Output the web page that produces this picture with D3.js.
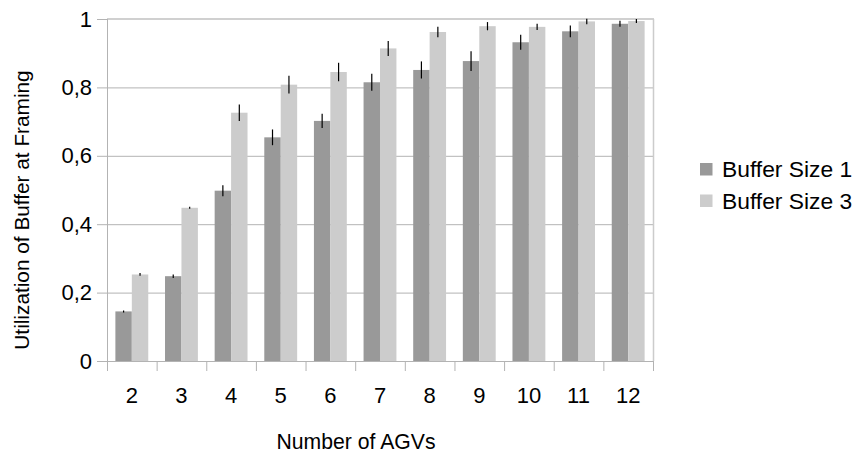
<!DOCTYPE html>
<html>
<head>
<meta charset="utf-8">
<script src="https://cdn.jsdelivr.net/npm/d3@7"></script>
<style>
  html, body { margin: 0; padding: 0; background: #fff; }
  svg { display: block; font-family: "Liberation Sans", Arial, sans-serif; }
</style>
</head>
<body>
<svg id="chart" width="858" height="455"></svg>
<script>
const categories = ["2", "3", "4", "5", "6", "7", "8", "9", "10", "11", "12"];
const seriesNames = ["Buffer Size 1", "Buffer Size 3"];
const buffer1 = [0.145, 0.248, 0.498, 0.654, 0.702, 0.815, 0.851, 0.877, 0.932, 0.964, 0.986];
const buffer3 = [0.253, 0.448, 0.726, 0.808, 0.845, 0.914, 0.962, 0.979, 0.977, 0.993, 0.994];
const err1 = [0.003, 0.005, 0.016, 0.023, 0.021, 0.025, 0.025, 0.029, 0.022, 0.017, 0.009];
const err3 = [0.004, 0.003, 0.024, 0.026, 0.027, 0.022, 0.015, 0.012, 0.009, 0.008, 0.006];
const yTicks = [0, 0.2, 0.4, 0.6, 0.8, 1];
const colors = ["#999999", "#cccccc"];

const svg = d3.select("#chart");
const margin = {left: 107, top: 19, right: 205, bottom: 94};
const W = 858, H = 455;
const iw = W - margin.left - margin.right;
const ih = H - margin.top - margin.bottom;

const g = svg.append("g").attr("transform", `translate(${margin.left},${margin.top})`);

const x0 = d3.scaleBand().domain(categories).range([0, iw]).paddingInner(0).paddingOuter(0);
const x1 = d3.scaleBand().domain(seriesNames).range([0, x0.bandwidth()]).paddingInner(0).paddingOuter(0.51);
const y = d3.scaleLinear().domain([0, 1]).range([ih, 0]);

const fmt = v => d3.format("~g")(v).replace(".", ",");

// grid lines
g.append("g").selectAll("line").data(yTicks.filter(t => t > 0 && t < 1)).join("line")
  .attr("x1", 0).attr("x2", iw)
  .attr("y1", d => y(d) + 0.5).attr("y2", d => y(d) + 0.5)
  .attr("stroke", "#b3b3b3").attr("stroke-width", 1);

// top and right border
g.append("line").attr("x1", 0).attr("x2", iw + 1).attr("y1", y(1)).attr("y2", y(1))
  .attr("stroke", "#d0d0d0").attr("stroke-width", 2);
g.append("line").attr("x1", iw + 0.5).attr("x2", iw + 0.5).attr("y1", y(1)).attr("y2", ih)
  .attr("stroke", "#cccccc").attr("stroke-width", 1.5);

// y axis
const yAxis = d3.axisLeft(y).tickValues(yTicks).tickFormat(fmt).tickSize(10).tickPadding(5);
const yg = g.append("g").call(yAxis);
yg.select(".domain").remove();
yg.selectAll(".tick line").attr("stroke", "#b3b3b3");
yg.selectAll(".tick text").attr("font-size", 22).attr("fill", "#000")
  .attr("font-family", "Liberation Sans, Arial, sans-serif");
g.append("line").attr("x1", 0.5).attr("x2", 0.5).attr("y1", 0).attr("y2", ih + 10)
  .attr("stroke", "#b3b3b3");

// x axis
const xg = g.append("g").attr("transform", `translate(0,${ih})`);
xg.append("line").attr("x1", -10).attr("x2", iw).attr("y1", 0.5).attr("y2", 0.5).attr("stroke", "#b3b3b3");
xg.selectAll("line.sep").data(categories).join("line").attr("class", "sep")
  .attr("x1", d => x0(d) + x0.bandwidth() + 0.5)
  .attr("x2", d => x0(d) + x0.bandwidth() + 0.5)
  .attr("y1", 0).attr("y2", 10).attr("stroke", "#b3b3b3");
xg.selectAll("text").data(categories).join("text")
  .attr("x", d => x0(d) + x0.bandwidth() / 2)
  .attr("y", 42)
  .attr("text-anchor", "middle")
  .attr("font-size", 22)
  .text(d => d);

// bars
const rows = categories.map((c, i) => ({c, vals: [
  {s: seriesNames[0], v: buffer1[i], e: err1[i], col: colors[0]},
  {s: seriesNames[1], v: buffer3[i], e: err3[i], col: colors[1]}
]}));

const grp = g.append("g").selectAll("g").data(rows).join("g")
  .attr("transform", d => `translate(${x0(d.c)},0)`);
grp.selectAll("rect").data(d => d.vals).join("rect")
  .attr("x", d => x1(d.s))
  .attr("width", x1.bandwidth())
  .attr("y", d => y(d.v))
  .attr("height", d => y(0) - y(d.v))
  .attr("fill", d => d.col);
grp.selectAll("line").data(d => d.vals).join("line")
  .attr("x1", d => x1(d.s) + x1.bandwidth() / 2)
  .attr("x2", d => x1(d.s) + x1.bandwidth() / 2)
  .attr("y1", d => y(Math.min(1.02, d.v + d.e)))
  .attr("y2", d => y(d.v - d.e))
  .attr("stroke", "#000").attr("stroke-width", 1.2);

// axis titles
svg.append("text").attr("x", 356).attr("y", 449).attr("text-anchor", "middle")
  .attr("font-size", 21.2).text("Number of AGVs");
svg.append("text").attr("transform", "translate(29,210) rotate(-90)").attr("text-anchor", "middle")
  .attr("font-size", 20.8).text("Utilization of Buffer at Framing");

// legend
const lg = svg.append("g").attr("transform", "translate(700,163)");
const li = lg.selectAll("g").data(seriesNames).join("g")
  .attr("transform", (d, i) => `translate(0,${i * 31.5})`);
li.append("rect").attr("width", 12.5).attr("height", 12.5).attr("fill", (d, i) => colors[i]);
li.append("text").attr("x", 22).attr("y", 14).attr("font-size", 22.8).text(d => d);
</script>
</body>
</html>
